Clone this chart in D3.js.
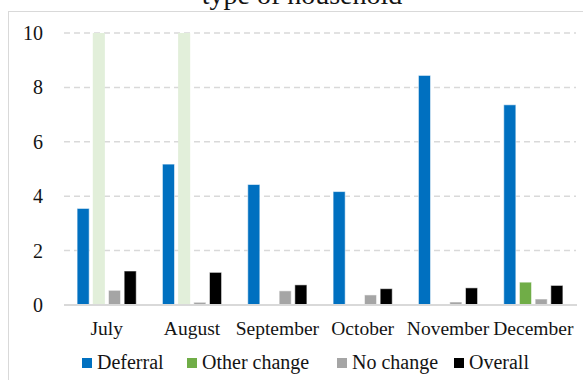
<!DOCTYPE html>
<html>
<head>
<meta charset="utf-8">
<script src="https://cdn.jsdelivr.net/npm/d3@7"></script>
<style>
  html, body { margin: 0; padding: 0; background: #fff; }
  svg { display: block; }
  text { font-family: "Liberation Serif", "DejaVu Serif", serif; fill: #141414; }
</style>
</head>
<body>
<svg id="chart" width="583" height="380"></svg>
<script>
// Monthly share by type of household
const months = ["July", "August", "September", "October", "November", "December"];
const seriesNames = ["Deferral", "Other change", "No change", "Overall"];
const deferral    = [3.55, 5.18, 4.43, 4.17, 8.44, 7.36];
const otherChange = [10, 10, 0, 0, 0, 0.84];
const noChange    = [0.54, 0.10, 0.52, 0.37, 0.11, 0.22];
const overall     = [1.25, 1.20, 0.74, 0.60, 0.63, 0.72];
// months where the "Other change" estimate runs past the axis and is shown faded
const fadedOther  = ["July", "August"];
const yTicks = [0, 2, 4, 6, 8, 10];

const colors = ["#0070c0", "#70ad47", "#a5a5a5", "#000000"];
const fadedGreen = "#e2efda";
const values = [deferral, otherChange, noChange, overall];

const svg = d3.select("#chart");
const plot = { left: 64, right: 576, top: 33, bottom: 305 };

// outer frame of the chart area
svg.append("rect")
  .attr("x", 8.5).attr("y", 11.5)
  .attr("width", 600).attr("height", 400)
  .attr("fill", "none").attr("stroke", "#d9d9d9").attr("stroke-width", 1);

// title (second line)
svg.append("text")
  .attr("x", 302).attr("y", 4)
  .attr("text-anchor", "middle")
  .style("font-size", "28px")
  .text("type of household");

const x0 = d3.scaleBand().domain(months).range([plot.left, plot.right]).paddingInner(0.307).paddingOuter(0.1535);
const x1 = d3.scaleBand().domain(seriesNames).range([0, x0.bandwidth()]).paddingInner(0.23).paddingOuter(0);
const y = d3.scaleLinear().domain([0, 10]).range([plot.bottom, plot.top]);

// dashed gridlines
svg.append("g").selectAll("line")
  .data(yTicks.filter(d => d > 0))
  .join("line")
  .attr("x1", plot.left).attr("x2", plot.right)
  .attr("y1", d => y(d)).attr("y2", d => y(d))
  .attr("stroke", "#d9d9d9").attr("stroke-width", 1.5)
  .attr("stroke-dasharray", "6,4");

// bars
const groups = svg.append("g").selectAll("g")
  .data(months)
  .join("g")
  .attr("transform", d => `translate(${x0(d)},0)`);

groups.selectAll("rect")
  .data((m, i) => seriesNames.map((s, j) => ({ month: m, series: s, j, v: values[j][i] })))
  .join("rect")
  .filter(d => d.v > 0)
  .attr("x", d => x1(d.series))
  .attr("width", x1.bandwidth())
  .attr("y", d => y(d.v))
  .attr("height", d => y(0) - y(d.v))
  .attr("fill", d => (d.j === 1 && fadedOther.includes(d.month)) ? fadedGreen : colors[d.j])
  .attr("stroke", d => (d.j === 1 && fadedOther.includes(d.month)) ? "none" : "#ffffff")
  .attr("stroke-opacity", 0.55)
  .attr("stroke-width", 1);

// baseline
svg.append("line")
  .attr("x1", plot.left).attr("x2", plot.right + 1)
  .attr("y1", y(0)).attr("y2", y(0))
  .attr("stroke", "#d9d9d9").attr("stroke-width", 2);

// y axis labels
const yAxis = d3.axisLeft(y).tickValues(yTicks).tickSize(0).tickPadding(0).tickFormat(d3.format("d"));
const gy = svg.append("g").attr("transform", "translate(43,0)").call(yAxis);
gy.select(".domain").remove();
gy.selectAll("text").style("font-size", "20px").style("font-family", null).attr("fill", "#141414");

// x axis labels
const xAxis = d3.axisBottom(x0).tickSize(0).tickPadding(0);
const gx = svg.append("g").attr("transform", "translate(0,321)").call(xAxis);
gx.select(".domain").remove();
gx.selectAll("text").style("font-size", "19.5px").style("font-family", null).attr("fill", "#141414").attr("dy", "0.71em");

// legend
const legendX = [82, 187, 337, 454];
const legend = svg.append("g").selectAll("g")
  .data(seriesNames)
  .join("g")
  .attr("transform", (d, i) => `translate(${legendX[i]},358)`);
legend.append("rect")
  .attr("width", 10).attr("height", 10)
  .attr("fill", (d, i) => colors[i]);
legend.append("text")
  .attr("x", 15).attr("y", 11)
  .style("font-size", "20px")
  .text(d => d);
</script>
</body>
</html>
